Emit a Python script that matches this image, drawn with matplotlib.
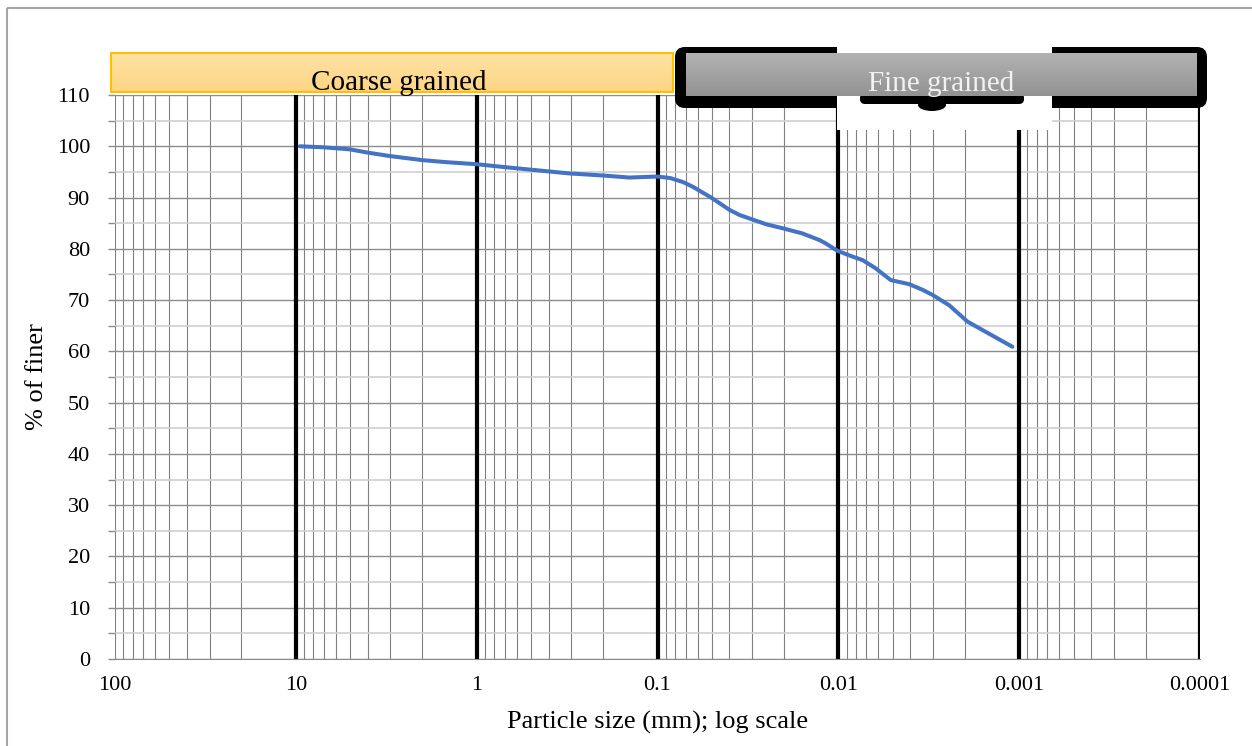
import numpy as np
import matplotlib
matplotlib.use('Agg')
import matplotlib.pyplot as plt
from matplotlib.patches import Rectangle, FancyBboxPatch, Ellipse
from matplotlib.colors import LinearSegmentedColormap

plt.rcParams['font.family'] = ['Liberation Serif', 'DejaVu Serif']

# grain size curve (mm, % finer)
size_mm = [9.5, 7.06, 5.03, 3.98, 3.03, 2.0, 1.47, 1.0, 0.685, 0.49, 0.306, 0.2,
           0.143, 0.1, 0.085, 0.072, 0.0638, 0.0505, 0.04, 0.0352, 0.0303, 0.0251,
           0.0203, 0.0158, 0.0127, 0.0118, 0.0101, 0.00838, 0.00734, 0.00622,
           0.00513, 0.00405, 0.00342, 0.00301, 0.00244, 0.00193, 0.00153, 0.00109]
pct_finer = [100.0, 99.8, 99.4, 98.75, 98.1, 97.3, 96.9, 96.5, 95.9, 95.4, 94.7, 94.3,
             93.9, 94.1, 93.8, 93.0, 92.1, 90.0, 87.6, 86.6, 85.8, 84.8,
             84.0, 83.0, 81.7, 81.1, 79.6, 78.5, 77.8, 76.2,
             73.9, 73.1, 72.0, 71.0, 69.0, 65.8, 63.8, 60.9]

decades = [100, 10, 1, 0.1, 0.01, 0.001, 0.0001]
decade_labels = ['100', '10', '1', '0.1', '0.01', '0.001', '0.0001']
thick_lines = [10, 1, 0.1, 0.01, 0.001, 0.0001]
y_major = list(range(0, 111, 10))
y_minor = list(range(5, 110, 10))

W, H = 1252, 746
fig = plt.figure(figsize=(W / 100, H / 100), dpi=100)
ax = fig.add_axes([115 / W, 1 - 659 / H, (1200 - 115) / W, (659 - 95) / H])

ax.set_xscale('log')
ax.set_xlim(100, 0.0001)
ax.set_ylim(0, 110)

# grid
minor_x = [m * 10.0 ** k for k in range(-4, 2) for m in range(2, 10)]
for xv in minor_x + [100]:
    ax.axvline(xv, color='#808080', lw=0.8, zorder=1)
for yv in y_minor:
    ax.axhline(yv, color='#d0d0d0', lw=1.2, zorder=1)
for yv in y_major:
    ax.axhline(yv, color='#8c8c8c', lw=1.0, zorder=1)
for xv in thick_lines:
    ax.axvline(xv, color='black', lw=3.0, zorder=2)

ax.plot(size_mm, pct_finer, color='#4472C4', lw=2.9, zorder=3,
        solid_capstyle='round', solid_joinstyle='round')

ax.set_xticks(decades)
ax.set_xticklabels(decade_labels)
ax.xaxis.set_minor_locator(matplotlib.ticker.NullLocator())
ax.set_yticks(y_major)
ax.set_yticks(y_minor, minor=True)
ax.tick_params(axis='x', length=0, pad=12, labelsize=16)
ax.tick_params(axis='y', which='both', length=5, width=1, color='#8c8c8c',
               pad=13, labelsize=16)

for s in ['top', 'right', 'left']:
    ax.spines[s].set_visible(False)
ax.spines['bottom'].set_color('#8c8c8c')

ax.set_xlabel('Particle size (mm); log scale', fontsize=19, labelpad=12)
ax.set_ylabel('% of finer', fontsize=19, labelpad=6)

# overlay in pixel coordinates for the soil class bands
ov = fig.add_axes([0, 0, 1, 1], zorder=5)
ov.set_facecolor('none')
ov.axis('off')

grad = np.linspace(0, 1, 50).reshape(-1, 1)

# coarse grained band (row 0 at top)
ov.imshow(grad, extent=(111, 673, 92, 53), aspect='auto', interpolation='bilinear',
          origin='upper', zorder=1,
          cmap=LinearSegmentedColormap.from_list('c', ['#fee2a4', '#fdd584']))
ov.add_patch(Rectangle((111, 53), 562, 39, fill=False, edgecolor='#ffc000', lw=1.5, zorder=2))
ov.text(399, 90, 'Coarse grained', fontsize=21, ha='center', va='baseline', zorder=3)

# fine grained band
ov.add_patch(FancyBboxPatch((675, 47), 532, 61, boxstyle='round,pad=0,rounding_size=10',
                            facecolor='black', edgecolor='none', zorder=1))
ov.add_patch(Rectangle((837, 46), 215, 84, facecolor='white', edgecolor='none', zorder=2))
ov.add_patch(FancyBboxPatch((860, 93), 164, 11, boxstyle='round,pad=0,rounding_size=5',
                            facecolor='black', edgecolor='none', zorder=3))
ov.add_patch(Ellipse((932, 105), 28, 12, facecolor='black', edgecolor='none', zorder=3))
ov.imshow(grad, extent=(686, 1197, 96, 53), aspect='auto', interpolation='bilinear',
          origin='upper', zorder=4,
          cmap=LinearSegmentedColormap.from_list('g', ['#b2b2b2', '#939393']))
ov.text(941, 91, 'Fine grained', fontsize=21, ha='center', va='baseline',
        color='#f2f2f2', zorder=5)

# outer frame
ov.add_patch(Rectangle((7, 8), 1400, 900, fill=False, edgecolor='#a6a6a6', lw=1.5, zorder=6))

ov.set_xlim(0, W)
ov.set_ylim(H, 0)

fig.savefig('out.png', dpi=100)
